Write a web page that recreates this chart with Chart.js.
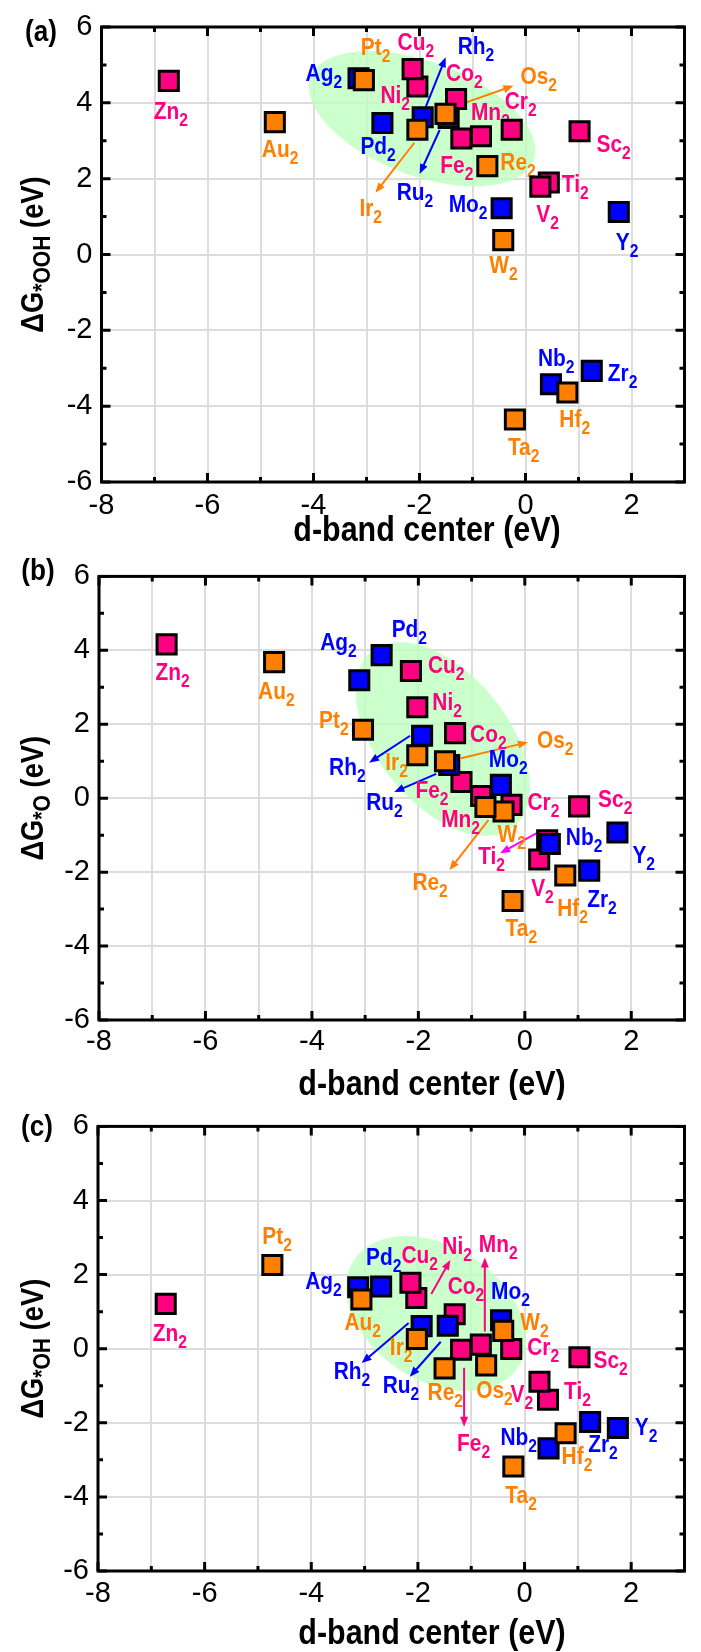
<!DOCTYPE html>
<html>
<head>
<meta charset="utf-8">
<title>Centro de banda d vs energía de adsorción</title>
<script src="https://cdn.jsdelivr.net/npm/chart.js@4.4.1/dist/chart.umd.min.js"></script>
<style>
  body { margin: 0; background: #fff; }
  #contenedor { position: relative; width: 701px; height: 1652px; }
  canvas { position: absolute; left: 0; }
</style>
</head>
<body>
<div id="contenedor">
  <canvas id="graficoA" width="701" height="550" style="top:0px"></canvas>
  <canvas id="graficoB" width="701" height="550" style="top:550px"></canvas>
  <canvas id="graficoC" width="701" height="552" style="top:1100px"></canvas>
</div>
<script>
//ELEMENTOS DE CADA SERIE (3d = ROSA, 4d = AZUL, 5d = NARANJA).
const elementos3d = ['Sc', 'Ti', 'V', 'Cr', 'Mn', 'Fe', 'Co', 'Ni', 'Cu', 'Zn'];
const elementos4d = ['Y', 'Zr', 'Nb', 'Mo', 'Ru', 'Rh', 'Pd', 'Ag'];
const elementos5d = ['Hf', 'Ta', 'W', 'Re', 'Os', 'Ir', 'Pt', 'Au'];

//MARCAS CON TEXTO EN LOS EJES.
const marcasX = [-8, -6, -4, -2, 0, 2];
const marcasY = [-6, -4, -2, 0, 2, 4, 6];

//(a) CENTRO DE BANDA d Y ΔG*OOH.
const dbandA3d = [1.02, 0.44, 0.28, -0.26, -0.84, -1.21, -1.31, -2.04, -2.13, -6.73];
const gOOH3d   = [3.25, 1.90, 1.79, 3.29, 3.12, 3.06, 4.10, 4.43, 4.89, 4.58];
const dbandA4d = [1.76, 1.25, 0.48, -0.45, -1.45, -1.94, -2.70, -3.15];
const gOOH4d   = [1.12, -3.07, -3.42, 1.22, 3.60, 3.62, 3.47, 4.65];
const dbandA5d = [0.79, -0.20, -0.42, -0.72, -1.51, -2.04, -3.05, -4.73];
const gOOH5d   = [-3.64, -4.35, 0.38, 2.33, 3.71, 3.29, 4.60, 3.49];

//(b) CENTRO DE BANDA d Y ΔG*O.
const dbandB3d = [1.02, 0.42, 0.27, -0.25, -0.82, -1.19, -1.31, -2.02, -2.14, -6.73];
const gO3d     = [-0.22, -1.14, -1.66, -0.18, 0.06, 0.44, 1.76, 2.46, 3.44, 4.16];
const dbandB4d = [1.74, 1.21, 0.47, -0.45, -1.42, -1.93, -2.69, -3.11];
const gO4d     = [-0.93, -1.96, -1.24, 0.36, 0.90, 1.69, 3.87, 3.19];
const dbandB5d = [0.76, -0.23, -0.40, -0.74, -1.50, -2.02, -3.04, -4.71];
const gO5d     = [-2.09, -2.78, -0.36, -0.24, 1.00, 1.16, 1.85, 3.68];

//(c) CENTRO DE BANDA d Y ΔG*OH.
const dbandC3d = [1.03, 0.44, 0.28, -0.25, -0.82, -1.19, -1.31, -2.03, -2.14, -6.73];
const gOH3d    = [-0.23, -1.38, -0.89, -0.01, 0.11, -0.03, 0.93, 1.37, 1.78, 1.21];
const dbandC4d = [1.75, 1.23, 0.45, -0.44, -1.44, -1.93, -2.69, -3.12];
const gOH4d    = [-2.14, -1.98, -2.69, 0.77, 0.62, 0.61, 1.68, 1.66];
const dbandC5d = [0.77, -0.21, -0.40, -1.50, -0.72, -2.02, -4.73, -3.06];
const gOH5d    = [-2.28, -3.18, 0.48, -0.53, -0.45, 0.26, 2.26, 1.33];

//COLORES Y FUENTES.
const ROSA = '#ff0080';
const AZUL = '#0000ff';
const NARANJA = '#ff8000';
const MAGENTA = '#ff00ff';
const VERDE = 'rgba(190, 255, 190, 0.8)';
const FUENTE = "'Liberation Sans', Arial, sans-serif";
const ESTRECHO = 0.87;

//POSICIÓN DE CADA ETIQUETA RESPECTO A SU PUNTO (PX: IZQUIERDA, LÍNEA BASE).
const etiquetasA = {
    Zn: [-15, 38], Au: [-13, 35], Pt: [-3, -25], Ag: [-53, 3], Cu: [-15, -19], Ni: [-37, 16],
    Co: [-10, -18], Cr: [-7, -21], Mn: [-10, -16], Fe: [-21, 35], Re: [13, 4], Pd: [-22, 31],
    Sc: [17, 21], Ti: [13, 10], V: [-4, 35], Mo: [-53, 4], W: [-14, 33], Y: [-3, 38],
    Nb: [-13, -18], Zr: [16, 10], Hf: [-8, 34], Ta: [-7, 36], Rh: [35, -63], Ru: [-52, 82],
    Ir: [-58, 86], Os: [75, -30]
};
const etiquetasB = {
    Zn: [-11, 36], Au: [-16, 37], Ag: [-39, -30], Pd: [10, -18], Cu: [17, 2], Ni: [15, 3],
    Pt: [-44, -2], Rh: [-93, 39], Ir: [-32, 15], Co: [15, 9], Os: [92, -13], Ru: [-83, 45],
    Fe: [-46, 16], Mo: [-12, -18], Mn: [-40, 31], Cr: [16, 5], Re: [-73, 83], W: [-6, 30],
    Sc: [19, 1], Y: [15, 30], Nb: [16, 1], Ti: [-69, 24], V: [-8, 36], Hf: [-8, 41],
    Zr: [-2, 36], Ta: [-7, 35]
};
const etiquetasC = {
    Zn: [-13, 37], Pt: [-10, -21], Ag: [-53, 2], Pd: [-15, -21], Au: [-17, 31], Cu: [-9, -20],
    Ni: [26, -44], Co: [-7, -20], Mo: [-10, -21], W: [17, -1], Mn: [-2, -93], Rh: [-88, 53],
    Ir: [-27, 16], Ru: [-65, 67], Fe: [-4, 101], Cr: [16, 6], Re: [-17, 32], Os: [-10, 33],
    V: [-29, 20], Ti: [16, -1], Sc: [14, 11], Y: [17, 7], Zr: [-2, 30], Hf: [-4, 31],
    Nb: [-48, -3], Ta: [-8, 36]
};

//FLECHAS: ELEMENTO, INICIO (PX), FIN (PX), COLOR.
const flechasA = [
    ['Rh', 3, -10, 23, -60, AZUL],
    ['Ru', -9, 12, -29, 56, AZUL],
    ['Ir', -3, 13, -42, 63, NARANJA],
    ['Os', 8, -7, 68, -28, NARANJA]
];
const flechasB = [
    ['Rh', -12, 0, -53, 27, AZUL],
    ['Os', 16, -3, 83, -19, NARANJA],
    ['Ru', -13, 9, -55, 27, AZUL],
    ['Re', 3, 13, -36, 63, NARANJA],
    ['Ti', -11, -7, -47, 13, MAGENTA]
];
const flechasC = [
    ['Ni', 15, -4, 34, -38, ROSA],
    ['Mn', 4, -13, 4, -87, ROSA],
    ['Rh', -13, -3, -60, 37, AZUL],
    ['Ru', -7, 16, -38, 51, AZUL],
    ['Fe', 3, 18, 3, 77, ROSA]
];


//FUNCIÓN PARA ESCRIBIR UNA ETIQUETA CON SUBÍNDICE 2.
function escribirEtiqueta(ctx, x, y, texto, color) {
    ctx.save();
    ctx.translate(x, y);
    ctx.scale(ESTRECHO, 1);
    ctx.fillStyle = color;
    ctx.textAlign = 'left';
    ctx.textBaseline = 'alphabetic';
    ctx.font = 'bold 24px ' + FUENTE;
    ctx.fillText(texto, 0, 0);
    const ancho = ctx.measureText(texto).width;
    ctx.font = 'bold 18px ' + FUENTE;
    ctx.fillText('2', ancho, 7);
    ctx.restore();
}


//FUNCIÓN PARA DIBUJAR UNA FLECHA.
function dibujarFlecha(ctx, x1, y1, x2, y2, color) {
    const ang = Math.atan2(y2 - y1, x2 - x1);
    ctx.save();
    ctx.strokeStyle = color;
    ctx.fillStyle = color;
    ctx.lineWidth = 2;
    ctx.beginPath();
    ctx.moveTo(x1, y1);
    ctx.lineTo(x2 - 6 * Math.cos(ang), y2 - 6 * Math.sin(ang));
    ctx.stroke();
    ctx.beginPath();
    ctx.moveTo(x2, y2);
    ctx.lineTo(x2 - 10 * Math.cos(ang) + 4 * Math.sin(ang), y2 - 10 * Math.sin(ang) - 4 * Math.cos(ang));
    ctx.lineTo(x2 - 10 * Math.cos(ang) - 4 * Math.sin(ang), y2 - 10 * Math.sin(ang) + 4 * Math.cos(ang));
    ctx.closePath();
    ctx.fill();
    ctx.restore();
}


//FUNCIÓN PARA GENERAR CADA PANEL.
function generarPanel(idCanvas, p) {
    const series = [
        { nombres: elementos5d, x: p.x5d, y: p.y5d, color: NARANJA },
        { nombres: elementos4d, x: p.x4d, y: p.y4d, color: AZUL },
        { nombres: elementos3d, x: p.x3d, y: p.y3d, color: ROSA }
    ];

    function buscarPunto(chart, nombre) {
        for (const s of series) {
            const i = s.nombres.indexOf(nombre);
            if (i >= 0) {
                return {
                    x: chart.scales.x.getPixelForValue(s.x[i]),
                    y: chart.scales.y.getPixelForValue(s.y[i]),
                    color: s.color
                };
            }
        }
        return null;
    }

    const decoracion = {
        id: 'decoracion',
        beforeDatasetsDraw(chart) {
            const ctx = chart.ctx;
            const area = chart.chartArea;

            //ELIPSE VERDE.
            ctx.save();
            ctx.beginPath();
            ctx.rect(area.left, area.top, area.right - area.left, area.bottom - area.top);
            ctx.clip();
            ctx.fillStyle = VERDE;
            ctx.beginPath();
            ctx.ellipse(chart.scales.x.getPixelForValue(p.elipse.cx), chart.scales.y.getPixelForValue(p.elipse.cy),
                p.elipse.a, p.elipse.b, p.elipse.ang * Math.PI / 180, 0, 2 * Math.PI);
            ctx.fill();
            ctx.restore();

            //FLECHAS.
            p.flechas.forEach(f => {
                const pt = buscarPunto(chart, f[0]);
                dibujarFlecha(ctx, pt.x + f[1], pt.y + f[2], pt.x + f[3], pt.y + f[4], f[5]);
            });

            //ETIQUETAS.
            Object.keys(p.etiquetas).forEach(nombre => {
                const pt = buscarPunto(chart, nombre);
                const d = p.etiquetas[nombre];
                escribirEtiqueta(ctx, pt.x + d[0], pt.y + d[1], nombre, pt.color);
            });
        },
        afterDatasetsDraw(chart) {
            const ctx = chart.ctx;
            const area = chart.chartArea;
            const sx = chart.scales.x;
            const sy = chart.scales.y;

            //MARCO Y MARCAS HACIA DENTRO.
            ctx.save();
            ctx.strokeStyle = '#000';
            ctx.lineWidth = 3;
            ctx.strokeRect(area.left, area.top, area.right - area.left, area.bottom - area.top);
            ctx.beginPath();
            for (let v = -8; v <= 3; v++) {
                const px = sx.getPixelForValue(v);
                const largo = v % 2 === 0 ? 9 : 5;
                ctx.moveTo(px, area.bottom); ctx.lineTo(px, area.bottom - largo);
                ctx.moveTo(px, area.top); ctx.lineTo(px, area.top + largo);
            }
            for (let v = -6; v <= 6; v++) {
                const py = sy.getPixelForValue(v);
                const largo = v % 2 === 0 ? 9 : 5;
                ctx.moveTo(area.left, py); ctx.lineTo(area.left + largo, py);
                ctx.moveTo(area.right, py); ctx.lineTo(area.right - largo, py);
            }
            ctx.stroke();
            ctx.restore();
        },
        afterDraw(chart) {
            const ctx = chart.ctx;
            const area = chart.chartArea;

            //LETRA DEL PANEL.
            ctx.save();
            ctx.translate(p.letraPos[0], p.letraPos[1]);
            ctx.scale(ESTRECHO, 1);
            ctx.fillStyle = '#000';
            ctx.font = 'bold 30px ' + FUENTE;
            ctx.textAlign = 'center';
            ctx.textBaseline = 'middle';
            ctx.fillText(p.letra, 0, 0);
            ctx.restore();

            //TÍTULO DEL EJE X.
            ctx.save();
            ctx.translate(p.tituloX[0], p.tituloX[1]);
            ctx.scale(ESTRECHO, 1);
            ctx.fillStyle = '#000';
            ctx.font = 'bold 35px ' + FUENTE;
            ctx.textAlign = 'center';
            ctx.textBaseline = 'middle';
            ctx.fillText('d-band center (eV)', 0, 0);
            ctx.restore();

            //TÍTULO DEL EJE Y (CON SUBÍNDICE).
            const partes = [['ΔG', 'bold 31px ', 0], [p.subY, 'bold 24px ', 7], [' (eV)', 'bold 31px ', 0]];
            ctx.save();
            ctx.translate(32, (area.top + area.bottom) / 2);
            ctx.rotate(-Math.PI / 2);
            ctx.scale(0.88, 1);
            ctx.fillStyle = '#000';
            ctx.textAlign = 'left';
            ctx.textBaseline = 'alphabetic';
            let total = 0;
            partes.forEach(pt => { ctx.font = pt[1] + FUENTE; total += ctx.measureText(pt[0]).width; });
            let x0 = -total / 2;
            partes.forEach(pt => {
                ctx.font = pt[1] + FUENTE;
                ctx.fillText(pt[0], x0, 11 + pt[2]);
                x0 += ctx.measureText(pt[0]).width;
            });
            ctx.restore();
        }
    };

    const ctx = document.getElementById(idCanvas);
    const alto = ctx.height;
    const config = {
        type: 'scatter',
        data: {
            datasets: series.map(s => ({
                label: s.color,
                data: s.x.map((v, i) => ({ x: v, y: s.y[i] })),
                pointStyle: 'rect',
                pointRadius: 13.5,
                pointHoverRadius: 13.5,
                pointBackgroundColor: s.color,
                pointBorderColor: '#000',
                pointBorderWidth: 3,
                pointHoverBorderWidth: 3
            }))
        },
        options: {
            responsive: false,
            animation: false,
            events: [],
            layout: { padding: { top: p.arriba, right: 701 - p.der, left: 0, bottom: 0 } },
            plugins: { legend: { display: false }, tooltip: { enabled: false } },
            scales: {
                x: {
                    type: 'linear',
                    min: -8,
                    max: 3,
                    afterFit: scale => { scale.height = alto - p.abajo; },
                    ticks: {
                        stepSize: 1,
                        autoSkip: false,
                        maxRotation: 0,
                        minRotation: 0,
                        padding: p.padX,
                        color: '#000',
                        font: { family: FUENTE, size: 29 },
                        callback: v => (marcasX.includes(v) ? String(v) : '')
                    },
                    grid: { color: '#dcdcdc', lineWidth: 2, drawTicks: false },
                    border: { display: false }
                },
                y: {
                    type: 'linear',
                    min: -6,
                    max: 6,
                    afterFit: scale => { scale.width = p.izq; },
                    ticks: {
                        stepSize: 2,
                        autoSkip: false,
                        padding: 9,
                        color: '#000',
                        font: { family: FUENTE, size: 29 },
                        callback: v => (marcasY.includes(v) ? String(v) : '')
                    },
                    grid: { color: '#dcdcdc', lineWidth: 2, drawTicks: false },
                    border: { display: false }
                }
            }
        },
        plugins: [decoracion]
    };
    return new Chart(ctx, config);
}


//SE GENERAN LOS TRES PANELES.
generarPanel('graficoA', {
    x3d: dbandA3d, y3d: gOOH3d, x4d: dbandA4d, y4d: gOOH4d, x5d: dbandA5d, y5d: gOOH5d,
    izq: 101.5, der: 699.5, arriba: 27, abajo: 482, padX: 7,
    etiquetas: etiquetasA, flechas: flechasA,
    elipse: { cx: -1.95, cy: 3.58, a: 119, b: 57, ang: 20.5 },
    letra: '(a)', letraPos: [41, 33], tituloX: [427, 531], subY: '*OOH'
});
generarPanel('graficoB', {
    x3d: dbandB3d, y3d: gO3d, x4d: dbandB4d, y4d: gO4d, x5d: dbandB5d, y5d: gO5d,
    izq: 99, der: 696, arriba: 20, abajo: 470, padX: 5,
    etiquetas: etiquetasB, flechas: flechasB,
    elipse: { cx: -1.54, cy: 1.6, a: 113, b: 65, ang: 51 },
    letra: '(b)', letraPos: [38, 22], tituloX: [432, 535], subY: '*O'
});
generarPanel('graficoC', {
    x3d: dbandC3d, y3d: gOH3d, x4d: dbandC4d, y4d: gOH4d, x5d: dbandC5d, y5d: gOH5d,
    izq: 98, der: 696, arriba: 24, abajo: 471, padX: 6,
    etiquetas: etiquetasC, flechas: flechasC,
    elipse: { cx: -1.66, cy: 0.95, a: 98, b: 67, ang: 33 },
    letra: '(c)', letraPos: [37, 28], tituloX: [432, 534], subY: '*OH'
});
</script>
</body>
</html>
